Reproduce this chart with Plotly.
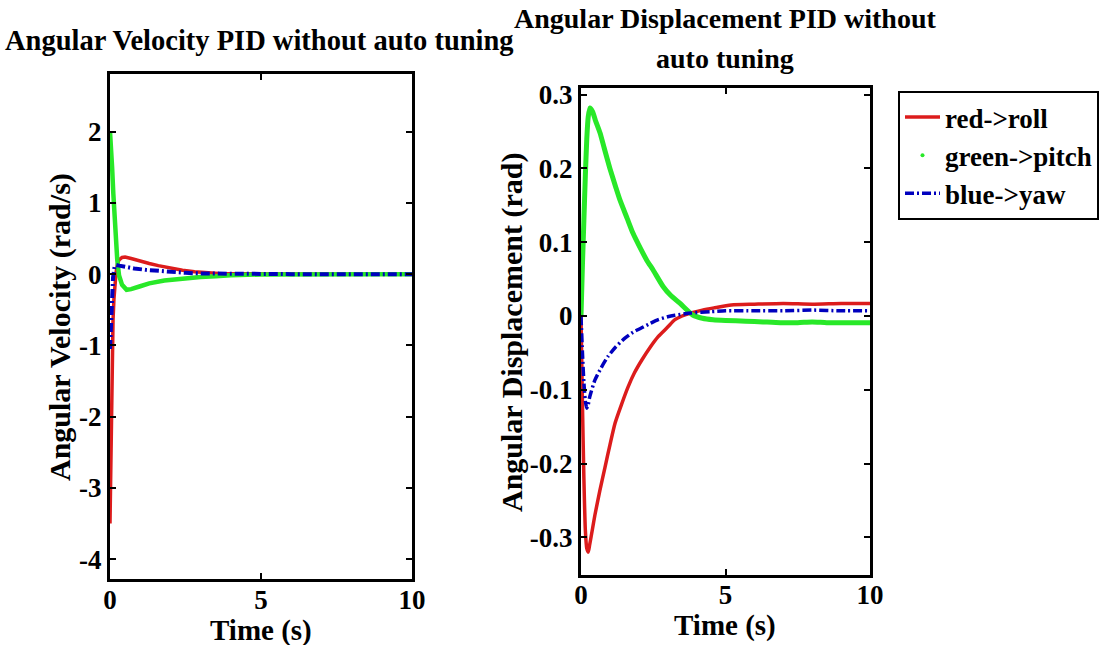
import plotly.graph_objects as go

# ---------------- data: angular velocity (left) ----------------
t_vel_roll = [0, 0.02, 0.04, 0.06, 0.08, 0.1, 0.13, 0.16, 0.2, 0.25, 0.3, 0.4, 0.5, 0.7, 1.0, 1.3, 1.6, 2.0, 2.4, 2.8, 3.2, 3.6, 4.0, 5, 6, 7, 8, 9, 10]
vel_roll = [-3.5, -2.8, -2.1, -1.5, -1.0, -0.65, -0.35, -0.15, 0.02, 0.15, 0.2, 0.235, 0.24, 0.22, 0.18, 0.15, 0.12, 0.085, 0.056, 0.035, 0.02, 0.01, 0.005, 0.002, 0.001, 0, 0, 0, 0]

t_vel_pitch = [0, 0.03, 0.07, 0.11, 0.17, 0.24, 0.3, 0.4, 0.55, 0.7, 1.0, 1.3, 1.8, 2.4, 3.0, 3.5, 4.0, 5, 6, 7, 8, 9, 10]
vel_pitch = [2.0, 1.85, 1.5, 1.13, 0.66, 0.2, -0.02, -0.15, -0.22, -0.21, -0.17, -0.13, -0.09, -0.06, -0.04, -0.03, -0.015, -0.005, 0, 0, 0, 0, 0]

t_vel_yaw = [0, 0.03, 0.06, 0.1, 0.15, 0.2, 0.3, 0.5, 0.8, 1.2, 1.9, 2.5, 3.0, 4.0, 5, 6, 7, 8, 9, 10]
vel_yaw = [-1.05, -0.75, -0.4, -0.05, 0.1, 0.13, 0.12, 0.1, 0.08, 0.06, 0.033, 0.018, 0.01, 0.003, 0, 0, 0, 0, 0, 0]

# ---------------- data: angular displacement (right) ----------------
t_dis_roll = [0, 0.05, 0.1, 0.15, 0.2, 0.25, 0.3, 0.4, 0.48, 0.65, 0.83, 1.0, 1.18, 1.4, 1.63, 1.85, 2.1, 2.4, 2.67, 3.0, 3.25, 3.5, 3.8, 4.2, 4.6, 5.2, 6, 7, 8, 9, 10]
dis_roll = [0, -0.12, -0.22, -0.29, -0.315, -0.32, -0.31, -0.288, -0.27, -0.237, -0.205, -0.175, -0.145, -0.12, -0.096, -0.077, -0.06, -0.042, -0.028, -0.015, -0.005, 0.0, 0.004, 0.008, 0.011, 0.015, 0.016, 0.017, 0.016, 0.017, 0.017]

t_dis_pitch = [0, 0.05, 0.1, 0.15, 0.2, 0.25, 0.31, 0.4, 0.5, 0.66, 0.8, 1.0, 1.2, 1.35, 1.6, 1.8, 2.0, 2.27, 2.5, 2.84, 3.1, 3.43, 3.88, 4.2, 4.57, 5.0, 5.7, 6.3, 6.9, 7.5, 8.0, 8.5, 9.0, 9.5, 10]
dis_pitch = [0, 0.07, 0.13, 0.19, 0.24, 0.27, 0.282, 0.277, 0.265, 0.248, 0.228, 0.2, 0.175, 0.157, 0.132, 0.112, 0.096, 0.076, 0.062, 0.04, 0.028, 0.017, 0.001, -0.003, -0.005, -0.006, -0.007, -0.008, -0.009, -0.009, -0.008, -0.009, -0.009, -0.009, -0.009]

t_dis_yaw = [0, 0.05, 0.1, 0.15, 0.2, 0.25, 0.3, 0.48, 0.7, 0.93, 1.2, 1.52, 1.8, 2.1, 2.4, 2.67, 3.0, 3.25, 3.8, 4.5, 5, 6, 7, 8, 9, 10]
dis_yaw = [0, -0.05, -0.09, -0.115, -0.125, -0.12, -0.11, -0.087, -0.07, -0.055, -0.042, -0.03, -0.022, -0.016, -0.01, -0.005, -0.001, 0.001, 0.004, 0.006, 0.007, 0.007, 0.007, 0.008, 0.007, 0.007]

# ---------------- ticks / labels ----------------
x_ticks = [0, 5, 10]
x_ticktext = ["0", "5", "10"]
vel_ticks = [-4, -3, -2, -1, 0, 1, 2]
vel_ticktext = ["-4", "-3", "-2", "-1", "0", "1", "2"]
dis_ticks = [-0.3, -0.2, -0.1, 0, 0.1, 0.2, 0.3]
dis_ticktext = ["-0.3", "-0.2", "-0.1", "0", "0.1", "0.2", "0.3"]
legend_names = ["red->roll", "green->pitch", "blue->yaw"]

RED = "rgb(220,28,28)"
GREEN = "rgb(40,232,40)"
BLUE = "rgb(0,0,190)"
DASHDOT = "9px,3px,2px,3px"
FONT = "Liberation Serif"
W, H = 1102, 645

fig = go.Figure()

# left subplot
fig.add_trace(go.Scatter(x=t_vel_roll, y=vel_roll, mode="lines", line=dict(color=RED, width=3.5),
                         xaxis="x", yaxis="y", showlegend=False))
fig.add_trace(go.Scatter(x=t_vel_pitch, y=vel_pitch, mode="lines", line=dict(color=GREEN, width=4.5),
                         xaxis="x", yaxis="y", showlegend=False))
fig.add_trace(go.Scatter(x=t_vel_yaw, y=vel_yaw, mode="lines", line=dict(color=BLUE, width=4, dash=DASHDOT),
                         xaxis="x", yaxis="y", showlegend=False))

# right subplot
fig.add_trace(go.Scatter(x=t_dis_roll, y=dis_roll, mode="lines",
                         line=dict(color=RED, width=3.5, shape="spline", smoothing=0.6),
                         xaxis="x2", yaxis="y2", name=legend_names[0]))
fig.add_trace(go.Scatter(x=t_dis_pitch, y=dis_pitch, mode="lines",
                         line=dict(color=GREEN, width=5, shape="spline", smoothing=0.6),
                         xaxis="x2", yaxis="y2", showlegend=False))
fig.add_trace(go.Scatter(x=[None], y=[None], mode="markers", marker=dict(color=GREEN, size=4),
                         xaxis="x2", yaxis="y2", name=legend_names[1]))
fig.add_trace(go.Scatter(x=t_dis_yaw, y=dis_yaw, mode="lines",
                         line=dict(color=BLUE, width=3.5, dash=DASHDOT, shape="spline", smoothing=0.6),
                         xaxis="x2", yaxis="y2", name=legend_names[2]))

tickfont = dict(family=FONT, size=27, color="black", weight="bold")
axis_common = dict(showline=True, linewidth=3, linecolor="black", mirror="ticks",
                   ticks="inside", ticklen=6, tickwidth=2, tickcolor="black",
                   showgrid=False, zeroline=False, tickfont=tickfont, automargin=False,
                   fixedrange=True)

fig.update_layout(
    width=W, height=H,
    margin=dict(l=0, r=0, t=0, b=0, autoexpand=False),
    paper_bgcolor="white", plot_bgcolor="white",
    xaxis=dict(domain=[110 / W, 412 / W], range=[0, 10], tickvals=x_ticks, ticktext=x_ticktext,
               anchor="y", ticklabelstandoff=-5, **axis_common),
    yaxis=dict(domain=[1 - 579 / H, 1 - 74 / H], range=[-4.28, 2.81], tickvals=vel_ticks,
               ticktext=vel_ticktext, anchor="x", **axis_common),
    xaxis2=dict(domain=[581 / W, 870 / W], range=[0, 10], tickvals=x_ticks, ticktext=x_ticktext,
                anchor="y2", ticklabelstandoff=-6, **axis_common),
    yaxis2=dict(domain=[1 - 575 / H, 1 - 88 / H], range=[-0.351, 0.309], tickvals=dis_ticks,
                ticktext=dis_ticktext, anchor="x2", **axis_common),
    legend=dict(x=898 / W, y=1 - 91 / H, xanchor="left", yanchor="top",
                bordercolor="black", borderwidth=2, bgcolor="white",
                font=dict(family=FONT, size=27, color="black", weight="bold"),
                tracegroupgap=0, itemsizing="trace", itemwidth=35),
)

def ann(text, x, y, size=28, angle=0):
    fig.add_annotation(text=text, x=x / W, y=1 - y / H, xref="paper", yref="paper",
                       showarrow=False, xanchor="center", yanchor="middle", textangle=angle,
                       font=dict(family=FONT, size=size, color="black", weight="bold"))

ann("Angular Velocity PID without auto tuning", 259, 40, size=28.5)
ann("Angular Displacement PID without", 725, 18)
ann("auto tuning", 725, 59)
ann("Time (s)", 261, 630, size=29)
ann("Time (s)", 725, 625, size=29)
ann("Angular Velocity (rad/s)", 60, 327, size=30, angle=-90)
ann("Angular Displacement (rad)", 512, 333, size=30, angle=-90)

fig.write_html("out.html", config={"displayModeBar": False},
               post_script="document.body.style.margin='0px';document.body.style.overflow='hidden';")
